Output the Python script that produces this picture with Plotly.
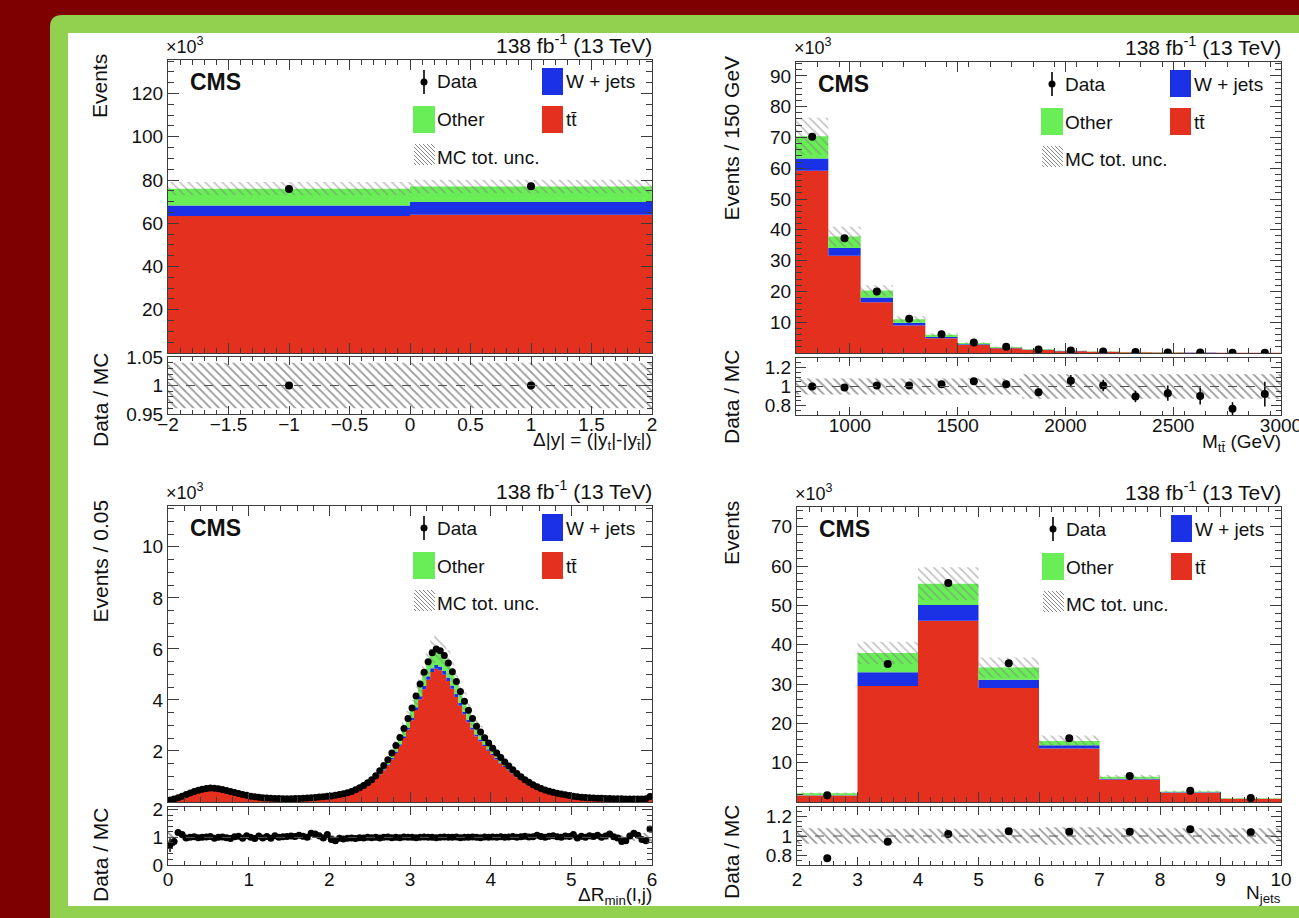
import plotly.graph_objects as go

W, H = 1299, 918
FONT = "Liberation Sans, Arial, Helvetica, sans-serif"
RED = "#e4311f"
BLUE = "#1b31e6"
GREEN = "#6aee57"
AXC = "#3c3c3c"
INK = "#111111"

# ---------------- Panel A : delta |y| ----------------
dy_edges = [-2.0, 0.0, 2.0]
dy_tt = [63.3, 63.9]
dy_wj = [4.9, 5.9]
dy_oth = [7.8, 7.2]
dy_data = [75.8, 77.1]
dy_data_err = [0.3, 0.3]
dy_unc = [0.04, 0.04]
dy_ratio = [1.0, 1.0]
dy_ratio_err = [0.004, 0.004]

# ---------------- Panel B : M_tt ----------------
mtt_edges = [750, 900, 1050, 1200, 1350, 1500, 1650, 1800, 1950, 2100, 2250, 2400, 2550, 2700, 2850, 3000]
mtt_tt = [59.2, 31.6, 16.5, 8.9, 4.75, 2.6, 1.55, 0.95, 0.6, 0.38, 0.25, 0.17, 0.11, 0.08, 0.06]
mtt_wj = [4.0, 2.5, 1.5, 0.9, 0.45, 0.25, 0.15, 0.09, 0.06, 0.04, 0.03, 0.02, 0.015, 0.01, 0.008]
mtt_oth = [7.2, 3.7, 2.3, 1.2, 0.75, 0.4, 0.25, 0.15, 0.1, 0.07, 0.05, 0.03, 0.02, 0.015, 0.01]
mtt_data = [70.2, 37.3, 20.0, 11.1, 6.1, 3.45, 2.0, 1.12, 0.8, 0.49, 0.29, 0.2, 0.13, 0.08, 0.07]
mtt_data_err = [0.27, 0.19, 0.14, 0.11, 0.08, 0.06, 0.05, 0.035, 0.03, 0.022, 0.017, 0.014, 0.011, 0.009, 0.008]
mtt_unc = [0.085, 0.085, 0.085, 0.085, 0.085, 0.085, 0.085, 0.13, 0.13, 0.13, 0.13, 0.13, 0.13, 0.13, 0.13]
mtt_ratio = [1.0, 0.99, 1.01, 1.01, 1.025, 1.055, 1.025, 0.94, 1.06, 1.01, 0.895, 0.93, 0.90, 0.765, 0.92]
mtt_ratio_err = [0.005, 0.006, 0.008, 0.01, 0.014, 0.019, 0.025, 0.04, 0.06, 0.06, 0.06, 0.08, 0.09, 0.07, 0.13]

# ---------------- Panel C : delta R_min(l,j) ----------------
dr_bin_width = 0.05
dr_edges = [round(dr_bin_width * i, 2) for i in range(121)]
dr_data = [
    0.08, 0.12, 0.17, 0.23, 0.29, 0.35, 0.41, 0.46, 0.50, 0.53,
    0.55, 0.54, 0.52, 0.49, 0.45, 0.41, 0.37, 0.33, 0.29, 0.26,
    0.23, 0.21, 0.19, 0.17, 0.16, 0.15, 0.14, 0.14, 0.13, 0.13,
    0.13, 0.14, 0.14, 0.15, 0.16, 0.17, 0.18, 0.20, 0.21, 0.23,
    0.24, 0.26, 0.29, 0.32, 0.36, 0.41, 0.48, 0.56, 0.65, 0.75,
    0.87, 1.03, 1.22, 1.43, 1.66, 1.92, 2.21, 2.53, 2.88, 3.27,
    3.68, 4.15, 4.62, 5.08, 5.50, 5.85, 6.00, 5.93, 5.74, 5.45,
    5.10, 4.72, 4.33, 3.95, 3.60, 3.27, 2.97, 2.74, 2.52, 2.31,
    2.11, 1.92, 1.74, 1.57, 1.41, 1.26, 1.12, 0.99, 0.87, 0.77,
    0.68, 0.60, 0.53, 0.47, 0.42, 0.38, 0.34, 0.31, 0.28, 0.25,
    0.23, 0.21, 0.19, 0.18, 0.17, 0.16, 0.15, 0.15, 0.14, 0.14,
    0.13, 0.13, 0.13, 0.12, 0.12, 0.12, 0.12, 0.12, 0.13, 0.22,
]
dr_tt = [
    0.07, 0.10, 0.15, 0.20, 0.25, 0.30, 0.36, 0.40, 0.44, 0.46,
    0.48, 0.47, 0.45, 0.43, 0.39, 0.36, 0.32, 0.29, 0.25, 0.23,
    0.20, 0.18, 0.17, 0.15, 0.14, 0.13, 0.12, 0.12, 0.11, 0.11,
    0.11, 0.12, 0.12, 0.13, 0.14, 0.15, 0.16, 0.17, 0.18, 0.20,
    0.21, 0.23, 0.25, 0.28, 0.31, 0.36, 0.42, 0.49, 0.57, 0.65,
    0.76, 0.90, 1.06, 1.24, 1.44, 1.67, 1.92, 2.20, 2.51, 2.84,
    3.20, 3.61, 4.02, 4.42, 4.79, 5.09, 5.22, 5.16, 4.99, 4.74,
    4.44, 4.11, 3.77, 3.44, 3.13, 2.84, 2.58, 2.38, 2.19, 2.01,
    1.84, 1.67, 1.51, 1.37, 1.23, 1.10, 0.97, 0.86, 0.76, 0.67,
    0.59, 0.52, 0.46, 0.41, 0.37, 0.33, 0.30, 0.27, 0.24, 0.22,
    0.20, 0.18, 0.17, 0.16, 0.15, 0.14, 0.13, 0.13, 0.12, 0.12,
    0.11, 0.11, 0.11, 0.10, 0.10, 0.10, 0.10, 0.10, 0.11, 0.19,
]
dr_wj = [
    0.00, 0.00, 0.00, 0.01, 0.01, 0.01, 0.01, 0.01, 0.01, 0.01,
    0.01, 0.01, 0.01, 0.01, 0.01, 0.01, 0.01, 0.01, 0.01, 0.01,
    0.01, 0.01, 0.01, 0.01, 0.01, 0.01, 0.01, 0.01, 0.01, 0.01,
    0.01, 0.01, 0.01, 0.01, 0.01, 0.01, 0.01, 0.01, 0.01, 0.01,
    0.01, 0.01, 0.01, 0.01, 0.01, 0.01, 0.01, 0.01, 0.02, 0.02,
    0.02, 0.03, 0.03, 0.04, 0.04, 0.05, 0.06, 0.06, 0.07, 0.08,
    0.09, 0.10, 0.12, 0.13, 0.14, 0.15, 0.15, 0.15, 0.14, 0.14,
    0.13, 0.12, 0.11, 0.10, 0.09, 0.08, 0.07, 0.07, 0.06, 0.06,
    0.05, 0.05, 0.04, 0.04, 0.04, 0.03, 0.03, 0.02, 0.02, 0.02,
    0.02, 0.02, 0.01, 0.01, 0.01, 0.01, 0.01, 0.01, 0.01, 0.01,
    0.01, 0.01, 0.01, 0.01, 0.01, 0.01, 0.01, 0.01, 0.01, 0.01,
    0.01, 0.01, 0.01, 0.01, 0.01, 0.01, 0.01, 0.01, 0.01, 0.01,
]
dr_oth = [
    0.01, 0.02, 0.02, 0.02, 0.03, 0.04, 0.04, 0.05, 0.05, 0.06,
    0.06, 0.06, 0.06, 0.05, 0.05, 0.04, 0.04, 0.03, 0.03, 0.02,
    0.02, 0.02, 0.01, 0.01, 0.01, 0.01, 0.01, 0.01, 0.01, 0.01,
    0.01, 0.01, 0.01, 0.01, 0.01, 0.01, 0.01, 0.02, 0.02, 0.02,
    0.02, 0.02, 0.03, 0.03, 0.04, 0.04, 0.05, 0.06, 0.06, 0.08,
    0.09, 0.10, 0.13, 0.15, 0.18, 0.20, 0.23, 0.27, 0.30, 0.35,
    0.39, 0.44, 0.48, 0.53, 0.57, 0.61, 0.63, 0.62, 0.61, 0.57,
    0.53, 0.49, 0.45, 0.41, 0.38, 0.35, 0.32, 0.29, 0.27, 0.24,
    0.22, 0.20, 0.19, 0.16, 0.14, 0.13, 0.12, 0.11, 0.09, 0.08,
    0.07, 0.06, 0.06, 0.05, 0.04, 0.04, 0.03, 0.03, 0.03, 0.02,
    0.02, 0.02, 0.01, 0.01, 0.01, 0.01, 0.01, 0.01, 0.01, 0.01,
    0.01, 0.01, 0.01, 0.01, 0.01, 0.01, 0.01, 0.01, 0.01, 0.02,
]
dr_unc = [
    0.30, 0.20, 0.14, 0.10, 0.09, 0.09, 0.09, 0.09, 0.09, 0.09,
    0.09, 0.09, 0.09, 0.09, 0.09, 0.09, 0.09, 0.09, 0.09, 0.09,
    0.09, 0.09, 0.09, 0.09, 0.09, 0.09, 0.09, 0.09, 0.09, 0.09,
    0.09, 0.09, 0.09, 0.09, 0.09, 0.09, 0.09, 0.09, 0.09, 0.09,
    0.09, 0.09, 0.09, 0.09, 0.09, 0.09, 0.09, 0.09, 0.09, 0.09,
    0.09, 0.09, 0.09, 0.09, 0.09, 0.09, 0.09, 0.09, 0.09, 0.09,
    0.09, 0.09, 0.09, 0.09, 0.09, 0.09, 0.09, 0.09, 0.09, 0.09,
    0.09, 0.09, 0.09, 0.09, 0.09, 0.09, 0.09, 0.09, 0.09, 0.09,
    0.09, 0.09, 0.09, 0.09, 0.09, 0.09, 0.09, 0.09, 0.09, 0.09,
    0.09, 0.09, 0.09, 0.09, 0.09, 0.09, 0.09, 0.09, 0.09, 0.09,
    0.09, 0.09, 0.09, 0.09, 0.09, 0.09, 0.09, 0.09, 0.09, 0.09,
    0.09, 0.09, 0.09, 0.09, 0.09, 0.12, 0.14, 0.16, 0.18, 0.22,
]
dr_ratio = [
    0.72, 0.85, 1.18, 1.10, 0.98, 1.00, 1.02, 0.99, 1.00, 1.01,
    1.03, 0.97, 1.00, 1.01, 0.99, 0.96, 1.02, 1.04, 0.97, 1.06,
    1.00, 0.96, 1.05, 0.98, 1.03, 0.97, 1.06, 1.00, 1.02, 1.03,
    1.05, 1.03, 1.08, 1.04, 1.00, 1.15, 1.12, 1.06, 0.98, 1.10,
    0.92, 0.88, 0.97, 0.94, 0.97, 0.98, 0.96, 0.99, 0.98, 1.00,
    0.99, 1.00, 0.98, 1.00, 1.01, 0.99, 1.00, 0.99, 1.01, 1.00,
    1.00, 0.99, 1.00, 1.01, 1.00, 1.00, 0.99, 1.00, 1.01, 1.00,
    1.00, 1.01, 0.99, 1.00, 1.00, 1.01, 1.00, 0.99, 1.01, 1.00,
    1.01, 1.00, 1.02, 1.00, 1.01, 1.03, 1.00, 1.02, 1.04, 1.01,
    1.02, 1.08, 1.03, 1.00, 1.04, 1.06, 1.02, 1.00, 1.05, 1.03,
    1.10, 0.98, 1.04, 1.00, 1.06, 1.03, 1.08, 1.00, 1.05, 1.12,
    1.02, 0.98, 0.85, 0.88, 1.05, 1.15, 1.08, 0.92, 0.88, 1.30,
]
dr_ratio_err = [
    0.25, 0.15, 0.10, 0.06, 0.05, 0.04, 0.04, 0.04, 0.04, 0.04,
    0.04, 0.04, 0.04, 0.04, 0.04, 0.04, 0.04, 0.04, 0.04, 0.04,
    0.04, 0.04, 0.04, 0.04, 0.04, 0.04, 0.04, 0.04, 0.04, 0.04,
    0.04, 0.04, 0.04, 0.04, 0.04, 0.04, 0.04, 0.04, 0.04, 0.04,
    0.03, 0.03, 0.03, 0.03, 0.03, 0.02, 0.02, 0.02, 0.02, 0.02,
    0.02, 0.02, 0.02, 0.02, 0.02, 0.02, 0.02, 0.02, 0.02, 0.02,
    0.02, 0.02, 0.02, 0.02, 0.02, 0.02, 0.02, 0.02, 0.02, 0.02,
    0.02, 0.02, 0.02, 0.02, 0.02, 0.02, 0.02, 0.02, 0.02, 0.02,
    0.02, 0.02, 0.02, 0.02, 0.02, 0.02, 0.02, 0.02, 0.02, 0.02,
    0.03, 0.03, 0.03, 0.03, 0.03, 0.03, 0.03, 0.03, 0.03, 0.04,
    0.04, 0.04, 0.04, 0.04, 0.04, 0.04, 0.04, 0.04, 0.05, 0.05,
    0.05, 0.05, 0.05, 0.05, 0.05, 0.06, 0.06, 0.06, 0.07, 0.10,
]

# ---------------- Panel D : N_jets ----------------
nj_edges = [2, 3, 4, 5, 6, 7, 8, 9, 10]
nj_tt = [1.66, 29.5, 46.1, 29.0, 13.6, 5.7, 2.35, 0.8]
nj_wj = [0.05, 3.5, 4.0, 2.1, 0.8, 0.2, 0.1, 0.03]
nj_oth = [0.5, 4.9, 5.4, 3.1, 1.1, 0.5, 0.25, 0.12]
nj_data = [1.7, 35.1, 55.7, 35.3, 16.2, 6.6, 2.85, 0.99]
nj_data_err = [0.04, 0.19, 0.24, 0.19, 0.13, 0.08, 0.05, 0.03]
nj_unc = [0.08, 0.075, 0.075, 0.075, 0.09, 0.08, 0.08, 0.08]
nj_ratio = [0.77, 0.94, 1.02, 1.05, 1.045, 1.045, 1.07, 1.04]
nj_ratio_err = [0.005, 0.003, 0.003, 0.003, 0.005, 0.008, 0.012, 0.02]

panels = [
    dict(edges=dy_edges, tt=dy_tt, wj=dy_wj, oth=dy_oth, data=dy_data, derr=dy_data_err,
         unc=dy_unc, ratio=dy_ratio, rerr=dy_ratio_err, ms=8,
         fx=(168, 652), my=(60, 353), ry=(357, 414),
         xrange=[-2, 2], xt=[-2, -1.5, -1, -0.5, 0, 0.5, 1, 1.5, 2],
         xtt=["\u22122", "\u22121.5", "\u22121", "\u22120.5", "0", "0.5", "1", "1.5", "2"], xminor=0.1,
         yrange=[0, 135.5], yt=[20, 40, 60, 80, 100, 120], yminor=5,
         rrange=[0.9499, 1.0501], rt=[0.95, 1, 1.05], rtt=["0.95", "1", "1.05"], rminor=0.01,
         ytitle="Events", xtitle="\u0394|y| = (|y<sub>t</sub>|-|y<sub>t\u0304</sub>|)",
         ax=100, rcy=400, lstand=-7, tdy=27),
    dict(edges=mtt_edges, tt=mtt_tt, wj=mtt_wj, oth=mtt_oth, data=mtt_data, derr=mtt_data_err,
         unc=mtt_unc, ratio=mtt_ratio, rerr=mtt_ratio_err, ms=8,
         fx=(796, 1281), my=(62, 353), ry=(358, 415),
         xrange=[750, 3000], xt=[1000, 1500, 2000, 2500, 3000],
         xtt=["1000", "1500", "2000", "2500", "3000"], xminor=100,
         yrange=[0, 94.5], yt=[10, 20, 30, 40, 50, 60, 70, 80, 90], yminor=2,
         rrange=[0.7, 1.3], rt=[0.8, 1, 1.2], rtt=["0.8", "1", "1.2"], rminor=0.05,
         ytitle="Events / 150 GeV", xtitle="M<sub>tt\u0304</sub> (GeV)",
         ax=731, rcy=397, lstand=-7, tdy=28),
    dict(edges=dr_edges, tt=dr_tt, wj=dr_wj, oth=dr_oth, data=dr_data, derr=None,
         unc=dr_unc, ratio=dr_ratio, rerr=dr_ratio_err, ms=7,
         fx=(168, 652), my=(506, 802), ry=(807, 865),
         xrange=[0, 6], xt=[0, 1, 2, 3, 4, 5, 6],
         xtt=["0", "1", "2", "3", "4", "5", "6"], xminor=0.2,
         yrange=[0, 11.6], yt=[2, 4, 6, 8, 10], yminor=0.5,
         rrange=[-0.001, 2.1], rt=[0, 1, 2], rtt=["0", "1", "2"], rminor=0.2,
         ytitle="Events / 0.05", xtitle="\u0394R<sub>min</sub>(l,j)",
         ax=100, rcy=855, lstand=-3, tdy=31),
    dict(edges=nj_edges, tt=nj_tt, wj=nj_wj, oth=nj_oth, data=nj_data, derr=nj_data_err,
         unc=nj_unc, ratio=nj_ratio, rerr=nj_ratio_err, ms=8,
         fx=(797, 1281), my=(507, 802), ry=(807, 865),
         xrange=[2, 10], xt=[2, 3, 4, 5, 6, 7, 8, 9, 10],
         xtt=["2", "3", "4", "5", "6", "7", "8", "9", "10"], xminor=0.2,
         yrange=[0, 75], yt=[10, 20, 30, 40, 50, 60, 70], yminor=2,
         rrange=[0.7, 1.3], rt=[0.8, 1, 1.2], rtt=["0.8", "1", "1.2"], rminor=0.05,
         ytitle="Events", xtitle="N<sub>jets</sub>",
         ax=731, rcy=852, lstand=-3, tdy=29),
]


def PX(p):
    return p / W


def PY(p):
    return 1 - p / H


def centers(e):
    return [(a + b) / 2 for a, b in zip(e[:-1], e[1:])]


def step_poly(edges, lower, upper):
    """closed polygon of a histogram layer between lower and upper step curves"""
    xs, ys = [], []
    n = len(upper)
    for i in range(n):
        xs += [edges[i], edges[i + 1]]
        ys += [upper[i], upper[i]]
    for i in reversed(range(n)):
        xs += [edges[i + 1], edges[i]]
        ys += [lower[i], lower[i]]
    xs.append(xs[0])
    ys.append(ys[0])
    return xs, ys


fig = go.Figure()
shapes = []
annotations = []
layout_axes = {}


def ann(text, x, y, size=19, xanchor="left", yanchor="middle", angle=0, color=INK):
    annotations.append(dict(text=text, x=PX(x), y=PY(y), xref="paper", yref="paper",
                            xanchor=xanchor, yanchor=yanchor, textangle=angle, showarrow=False,
                            font=dict(size=size, family=FONT, color=color)))


def rect(x0, y0, x1, y1, color, layer="above"):
    shapes.append(dict(type="rect", xref="paper", yref="paper", x0=PX(x0), x1=PX(x1),
                       y0=PY(y1), y1=PY(y0), fillcolor=color, line=dict(width=0), layer=layer))


def seg(x0, y0, x1, y1, color, width=1, dash="solid", layer="above"):
    shapes.append(dict(type="line", xref="paper", yref="paper", x0=PX(x0), x1=PX(x1),
                       y0=PY(y0), y1=PY(y1), line=dict(color=color, width=width, dash=dash), layer=layer))


# background frame
gx0, gy0 = 50, 15
rr = 12
shapes.append(dict(type="path", xref="paper", yref="paper", layer="below",
                   path=(f"M {PX(gx0)},{PY(gy0 + rr)} Q {PX(gx0)},{PY(gy0)} {PX(gx0 + rr)},{PY(gy0)} "
                         f"L 1.05,{PY(gy0)} L 1.05,-0.05 L {PX(gx0)},-0.05 Z"),
                   fillcolor="#92d050", line=dict(width=0)))
rect(68, 33, 1320, 906, "white", layer="below")

common = dict(showline=True, linecolor=AXC, linewidth=1, mirror="ticks", ticks="inside",
              tickcolor=AXC, tickwidth=1, showgrid=False, zeroline=False, automargin=False,
              tickfont=dict(size=19, family=FONT, color=INK))

for k, p in enumerate(panels, start=1):
    im, ir = 2 * k - 1, 2 * k
    xm, ym, xr, yr = f"x{im}", f"y{im}", f"x{ir}", f"y{ir}"
    e = p["edges"]
    c = centers(e)
    zero = [0.0] * len(c)
    lvl1 = list(p["tt"])
    lvl2 = [a + b for a, b in zip(lvl1, p["wj"])]
    tot = [a + b for a, b in zip(lvl2, p["oth"])]

    for lo, hi, col in ((zero, lvl1, RED), (lvl1, lvl2, BLUE), (lvl2, tot, GREEN)):
        sx, sy = step_poly(e, lo, hi)
        fig.add_trace(go.Scatter(x=sx, y=sy, mode="none", fill="toself", fillcolor=col,
                                 xaxis=xm, yaxis=ym, hoverinfo="skip"))
    up = [t * (1 + u) for t, u in zip(tot, p["unc"])]
    dn = [t * (1 - u) for t, u in zip(tot, p["unc"])]
    bx, by = step_poly(e, dn, up)
    fig.add_trace(go.Scatter(x=bx, y=by, mode="none", fill="toself", fillcolor="rgba(0,0,0,0)",
                             fillpattern=dict(shape="\\", fgcolor="#7a7a7a", size=6, solidity=0.25),
                             xaxis=xm, yaxis=ym, hoverinfo="skip"))
    ey = dict(type="data", array=p["derr"], color="black", thickness=1.5, width=0, visible=True) \
        if p["derr"] is not None else dict(visible=False)
    fig.add_trace(go.Scatter(x=c, y=p["data"], mode="markers", xaxis=xm, yaxis=ym,
                             marker=dict(color="black", size=p["ms"]), error_y=ey))

    # ratio pad
    rup = [1 + u for u in p["unc"]]
    rdn = [1 - u for u in p["unc"]]
    rx, ry_ = step_poly(e, rdn, rup)
    fig.add_trace(go.Scatter(x=rx, y=ry_, mode="none", fill="toself", fillcolor="rgba(0,0,0,0)",
                             fillpattern=dict(shape="\\", fgcolor="#333333", size=6, solidity=0.3),
                             xaxis=xr, yaxis=yr, hoverinfo="skip"))
    fig.add_trace(go.Scatter(x=c, y=p["ratio"], mode="markers", xaxis=xr, yaxis=yr,
                             marker=dict(color="black", size=p["ms"]),
                             error_y=dict(type="data", array=p["rerr"], color="black", thickness=1.5, width=0)))
    shapes.append(dict(type="line", xref=f"{xr} domain", yref=yr, x0=0, x1=1, y0=1, y1=1,
                       line=dict(color="#555555", width=1, dash="dash"), layer="above"))

    fx0, fx1 = p["fx"]
    my0, my1 = p["my"]
    ry0, ry1 = p["ry"]
    xdom = [PX(fx0), PX(fx1)]
    layout_axes[f"xaxis{im}"] = dict(domain=xdom, range=p["xrange"], anchor=ym, tickmode="array",
                                     tickvals=p["xt"], showticklabels=False, ticklen=10,
                                     minor=dict(ticks="inside", ticklen=5, tickcolor=AXC, tickmode="linear",
                                                tick0=p["xrange"][0], dtick=p["xminor"]), **common)
    layout_axes[f"yaxis{im}"] = dict(domain=[PY(my1), PY(my0)], range=p["yrange"], anchor=xm,
                                     tickmode="array", tickvals=p["yt"], ticktext=[str(v) for v in p["yt"]],
                                     ticklen=11, minor=dict(ticks="inside", ticklen=6, tickcolor=AXC,
                                                            tickmode="linear", tick0=0, dtick=p["yminor"]),
                                     **common)
    layout_axes[f"xaxis{ir}"] = dict(domain=xdom, range=p["xrange"], anchor=yr, tickmode="array",
                                     tickvals=p["xt"], ticktext=p["xtt"], ticklen=8,
                                     ticklabelstandoff=p["lstand"], ticklabeloverflow="allow",
                                     minor=dict(ticks="inside", ticklen=4, tickcolor=AXC, tickmode="linear",
                                                tick0=p["xrange"][0], dtick=p["xminor"]), **common)
    layout_axes[f"yaxis{ir}"] = dict(domain=[PY(ry1), PY(ry0)], range=p["rrange"], anchor=xr,
                                     tickmode="array", tickvals=p["rt"], ticktext=p["rtt"], ticklen=10,
                                     minor=dict(ticks="inside", ticklen=5, tickcolor=AXC, tickmode="linear",
                                                tick0=0, dtick=p["rminor"]), **common)

    # texts above frame
    ann("\u00d710<sup>3</sup>", fx0 - 4, my0 - 15, size=18)
    ann("138 fb<sup>-1</sup> (13 TeV)", fx1 + 2, my0 - 16, size=21, xanchor="right")
    ann("<b>CMS</b>", fx0 + 20, my0 + 22, size=23)
    # axis titles
    ann(p["ytitle"], p["ax"], my0 - 8, size=21, xanchor="center", yanchor="top", angle=-90)
    ann("Data / MC", p["ax"], p["rcy"], size=21, xanchor="center", yanchor="middle", angle=-90)
    ann(p["xtitle"], fx1 + 2, ry1 + p["tdy"], size=19, xanchor="right")

    # legend
    lx = fx0 + 256
    ly = my0 + 22
    seg(lx, ly - 12, lx, ly + 12, "black", width=1.6)
    shapes.append(dict(type="circle", xref="paper", yref="paper", x0=PX(lx - 3.5), x1=PX(lx + 3.5),
                       y0=PY(ly + 3.5), y1=PY(ly - 3.5), fillcolor="black", line=dict(width=0)))
    ann("Data", fx0 + 267, ly, size=19)
    rect(fx0 + 374, my0 + 8, fx0 + 395, my0 + 35, BLUE)
    ann("W + jets", fx0 + 396, ly, size=19)
    rect(fx0 + 245, my0 + 46, fx0 + 267, my0 + 73, GREEN)
    ann("Other", fx0 + 267, my0 + 60, size=19)
    rect(fx0 + 374, my0 + 46, fx0 + 395, my0 + 73, RED)
    ann("tt\u0304", fx0 + 396, my0 + 60, size=19)
    # hatched legend square
    sx0, sy0, s = fx0 + 246, my0 + 84, 21
    for off in range(-s + 2, s, 4):
        if off >= 0:
            seg(sx0 + off, sy0, sx0 + s, sy0 + s - off, "#8a8a8a", width=1)
        else:
            seg(sx0, sy0 - off, sx0 + s + off, sy0 + s, "#8a8a8a", width=1)
    ann("MC tot. unc.", fx0 + 267, my0 + 97, size=19)

fig.update_layout(width=W, height=H, margin=dict(l=0, r=0, t=0, b=0, pad=0, autoexpand=False), autosize=False,
                  paper_bgcolor="#7f0000", plot_bgcolor="white", showlegend=False,
                  font=dict(family=FONT, color=INK, size=19), shapes=shapes, annotations=annotations,
                  **layout_axes)
fig.write_html("out.html")
